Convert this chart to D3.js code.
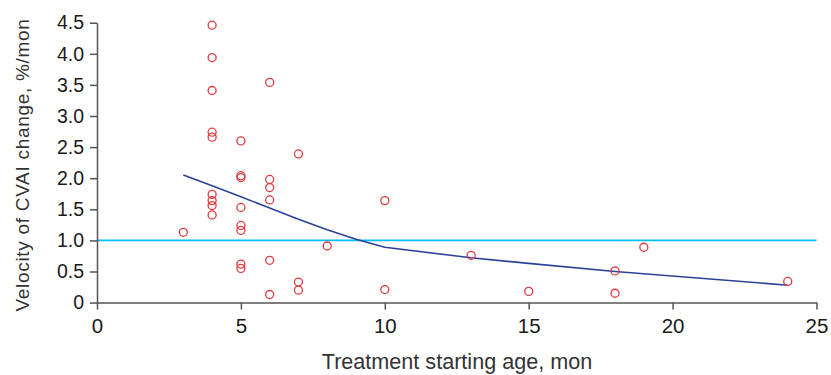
<!DOCTYPE html>
<html><head><meta charset="utf-8">
<script src="https://cdn.jsdelivr.net/npm/d3@7"></script>
<style>body{margin:0;background:#fff}</style>
</head><body><svg id="c" width="831" height="375"></svg>
<script>
const ages = [4,4,6,4,4,4,5,7,5,5,6,6,6,4,4,4,4,5,5,5,3,8,6,5,5,7,7,6,10,10,13,15,18,18,19,24];
const velocities = [4.46,3.94,3.54,3.41,2.74,2.66,2.60,2.39,2.04,2.01,1.98,1.85,1.65,1.74,1.64,1.56,1.41,1.53,1.24,1.16,1.13,0.91,0.68,0.62,0.55,0.33,0.20,0.13,1.64,0.21,0.76,0.18,0.51,0.15,0.89,0.34];
const fitAges = [3,4,5,6,7,8,9,10,13,15,18,24];
const fitValues = [2.05,1.88,1.70,1.52,1.34,1.17,1.02,0.89,0.72,0.63,0.50,0.28];
const threshold = 1.0;
const xTicks = [0,5,10,15,20,25];
const yTicks = [0,0.5,1.0,1.5,2.0,2.5,3.0,3.5,4.0,4.5];

const svg = d3.select('#c');
const x = d3.scaleLinear().domain([0,25]).range([97,816.5]);
const y = d3.scaleLinear().domain([0,4.5]).range([302.6,22.7]);
const axisColor = '#555';

// threshold line
svg.append('line').attr('x1',x(0)).attr('x2',x(25)).attr('y1',y(threshold)).attr('y2',y(threshold))
  .attr('stroke','#00bff3').attr('stroke-width',1.6);

// fitted line
svg.append('path').datum(fitAges.map((a,i)=>[a,fitValues[i]]))
  .attr('d', d3.line().x(d=>x(d[0])).y(d=>y(d[1])))
  .attr('fill','none').attr('stroke','#2a4399').attr('stroke-width',1.6);

// points
svg.append('g').selectAll('circle').data(ages.map((a,i)=>[a,velocities[i]])).join('circle')
  .attr('cx',d=>x(d[0])).attr('cy',d=>y(d[1])).attr('r',4)
  .attr('fill','none').attr('stroke','#e0393e').attr('stroke-width',1.3);

// axes
const xa = svg.append('g').attr('transform',`translate(0,${y(0)})`)
  .call(d3.axisBottom(x).tickValues(xTicks).tickFormat(d3.format('d')).tickSize(7).tickSizeOuter(0));
const ya = svg.append('g').attr('transform',`translate(${x(0)},0)`)
  .call(d3.axisLeft(y).tickValues(yTicks).tickFormat(d=>d===0?'0':d3.format('.1f')(d)).tickSize(7).tickSizeOuter(0));
[xa,ya].forEach(g=>{
  g.selectAll('path,line').attr('stroke',axisColor).attr('stroke-width',1.5);
  g.selectAll('text').attr('fill','#1a1a1a');
});
xa.selectAll('text').attr('font-family','"Liberation Sans Narrow","Liberation Sans",sans-serif').attr('font-size',20.5).attr('dy','0.98em');
ya.selectAll('text').attr('font-family','"Liberation Sans",Arial,sans-serif').attr('font-size',19.5).attr('dx','-3px');

svg.append('text').attr('x',457).attr('y',369).attr('text-anchor','middle')
  .attr('font-family','"Liberation Sans Narrow","Liberation Sans",sans-serif').attr('font-size',21.6).attr('fill','#333')
  .text('Treatment starting age, mon');
svg.append('text').attr('transform','translate(29,165) rotate(-90)').attr('text-anchor','middle')
  .attr('font-family','"Liberation Sans",Arial,sans-serif').attr('font-size',19).attr('letter-spacing','0.7px').attr('fill','#333')
  .text('Velocity of CVAI change, %/mon');
</script></body></html>
